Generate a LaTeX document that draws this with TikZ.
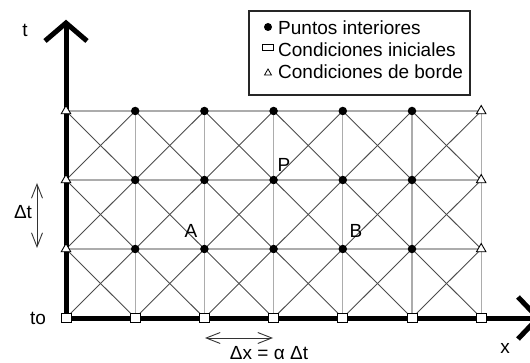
\documentclass[tikz,border=0pt]{standalone}
\usepackage{fontspec}
\setmainfont{Liberation Sans}
\usetikzlibrary{arrows.meta,shapes.geometric}
\begin{document}
\begin{tikzpicture}[x=1pt,y=-1pt,
  lbl/.style={font=\fontsize{19}{21}\selectfont, inner sep=0pt},
  dotpt/.style={circle,fill=black,inner sep=0pt,minimum size=8.5pt},
  sqpt/.style={rectangle,draw=black,fill=white,line width=1pt,inner sep=0pt,minimum width=10pt,minimum height=9pt},
  tript/.style={regular polygon,regular polygon sides=3,draw=black,fill=white,line width=0.9pt,inner sep=0pt,minimum size=11pt},
  gridln/.style={draw=gray!65,line width=1.1pt},
  diagln/.style={draw=black!70,line width=0.9pt},
  axisln/.style={line width=5pt},
  dimln/.style={line width=0.9pt, draw=black!80, {Straight Barb[length=14pt,width=11pt]}-{Straight Barb[length=14pt,width=11pt]}}
]
\useasboundingbox (0,0) rectangle (530,363);
\clip (0,0) rectangle (530,363);
% grid coordinates
\foreach \i in {0,...,6}
  \foreach \j in {0,...,3}
    \coordinate (g\i\j) at ({66+69.2*\i},{318-69*\j});
% horizontal grid lines
\foreach \j in {1,2,3} \draw[gridln] (g0\j) -- (g6\j);
% vertical grid lines
\foreach \i in {1,...,6} \draw[gridln] (g\i0) -- (g\i3);
% diagonals
\foreach \i in {0,...,5}
  \foreach \j in {0,1,2} {
    \pgfmathtruncatemacro{\ii}{\i+1}
    \pgfmathtruncatemacro{\jj}{\j+1}
    \draw[diagln] (g\i\j) -- (g\ii\jj);
    \draw[diagln] (g\ii\j) -- (g\i\jj);
  }
% axes
\coordinate (ttip) at (66,23);
\coordinate (xtip) at (538,318);
\draw[axisln] (66,321) -- (ttip);
\draw[axisln] (45,41) -- (ttip) -- (87,41);
\draw[axisln] (63.5,318) -- (xtip);
\draw[axisln] (518,297) -- (xtip) -- (518,339);
% markers
\foreach \i in {1,...,5}
  \foreach \j in {1,2,3}
    \node[dotpt] (d\i\j) at (g\i\j) {};
\foreach \i in {0,...,6}
  \node[sqpt] (s\i) at (g\i0) {};
\foreach \i in {0,6}
  \foreach \j in {1,2,3}
    \node[tript] (tr\i\j) at (g\i\j) {};
% labels
\node[lbl] (tlab) at (25,30) {t};
\node[lbl] (tolab) at (38,318) {to};
\node[lbl] (xlab) at (505,348) {x};
\node[lbl] (Plab) at (284,165) {P};
\node[lbl] (Alab) at (191,231) {A};
\node[lbl] (Blab) at (356,231) {B};
% delta t
\node[lbl] (dtlab) at (23,212) {Δt};
\coordinate (dta) at (37,183);
\coordinate (dtb) at (37,248);
\draw[dimln] (dta) -- (dtb);
% delta x
\coordinate (dxa) at (205,338);
\coordinate (dxb) at (273,338);
\draw[dimln] (dxa) -- (dxb);
\node[lbl] (dxlab) at (269,353) {Δx = α Δt};
% legend
\node[draw=black!85,line width=1.2pt,minimum width=221pt,minimum height=84pt,inner sep=0pt] (legend) at (359.5,53) {};
\node[dotpt,minimum size=8pt] (ldot) at (268,27) {};
\node[rectangle,draw=black,fill=white,line width=0.9pt,inner sep=0pt,minimum width=11pt,minimum height=6.5pt] (lsq) at (268,47.5) {};
\node[tript,minimum size=8pt,line width=0.8pt] (ltri) at (268,73) {};
\node[lbl,anchor=west] (l1) at (278,28) {Puntos interiores};
\node[lbl,anchor=west] (l2) at (278,50) {Condiciones iniciales};
\node[lbl,anchor=west] (l3) at (278,72) {Condiciones de borde};
\end{tikzpicture}
\end{document}
